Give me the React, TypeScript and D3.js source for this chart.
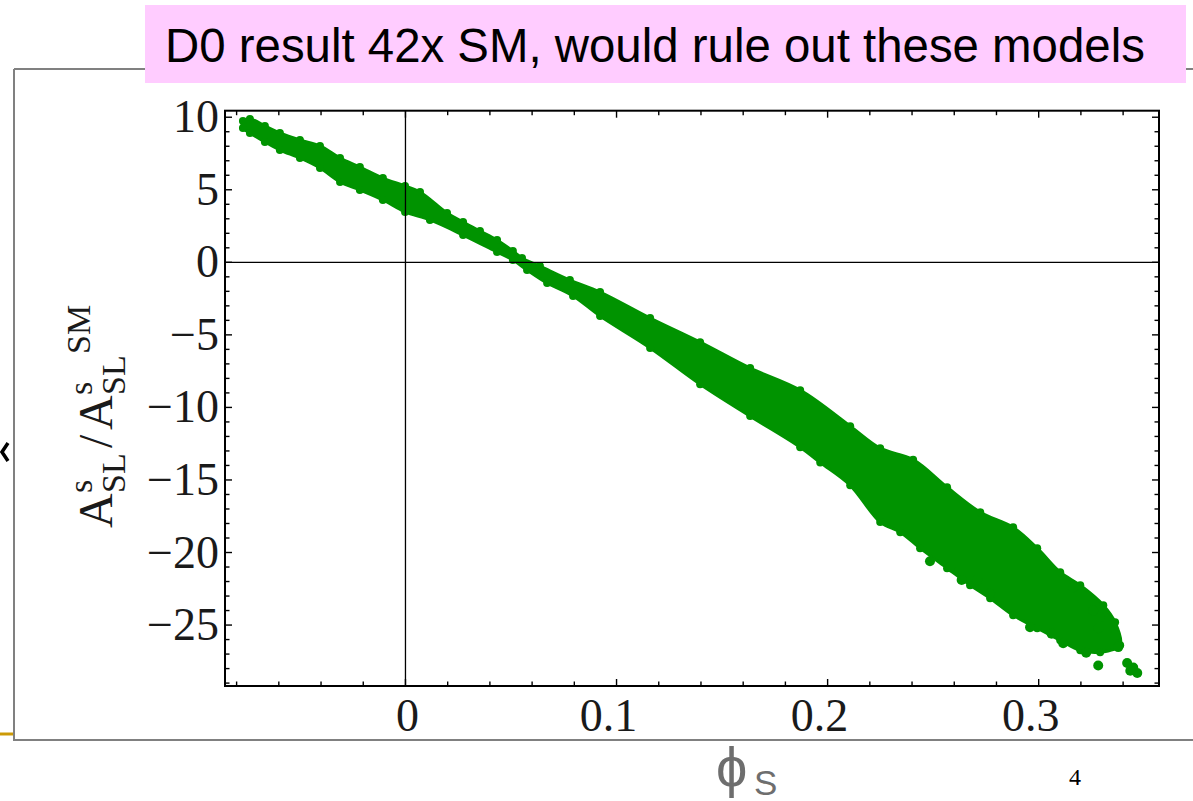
import React from "react";
import * as d3 from "d3";

// Upper boundary of the dense scan band: [phi_s, A_SL^s / A_SL^s,SM]
const bandUpper: [number, number][] = [
  [-0.077, 9.74], [-0.0737, 9.88], [-0.0666, 9.4], [-0.0595, 8.92], [-0.05, 8.43],
  [-0.0405, 8.02], [-0.031, 7.19], [-0.0216, 6.57], [-0.0107, 5.81], [-0.0002, 5.26],
  [0.0069, 4.85], [0.0197, 3.4], [0.0273, 2.78], [0.0353, 2.16], [0.0434, 1.54],
  [0.0509, 0.78], [0.0552, 0.3], [0.0637, -0.26], [0.0779, -1.22], [0.0922, -2.05],
  [0.1159, -3.84], [0.1396, -5.5], [0.1633, -7.29], [0.187, -8.81], [0.2107, -11.29],
  [0.2249, -12.81], [0.2405, -13.6], [0.2566, -15.5], [0.2723, -17.22], [0.2879, -18.26],
  [0.2993, -19.7], [0.3102, -21.36], [0.3197, -22.26], [0.3306, -23.63], [0.3362, -24.81],
];

// Lower boundary of the band, listed from the right end back to the left end
const bandLower: [number, number][] = [
  [0.3386, -26.39], [0.3291, -26.87], [0.3197, -26.74], [0.3102, -26.05], [0.2993, -25.22],
  [0.2879, -24.32], [0.277, -23.15], [0.2675, -22.25], [0.2566, -21.08], [0.2438, -19.7],
  [0.2344, -18.6], [0.2249, -17.9], [0.2107, -15.37], [0.1965, -13.8], [0.187, -12.74],
  [0.1633, -10.6], [0.1396, -8.4], [0.1159, -5.9], [0.0922, -3.7], [0.0794, -2.32],
  [0.0671, -1.43], [0.0576, -0.53], [0.0509, 0.16], [0.0434, 0.71], [0.0273, 1.88],
  [0.0116, 2.92], [-0.0002, 3.47], [-0.0107, 4.3], [-0.0216, 4.99], [-0.031, 5.54],
  [-0.0405, 6.5], [-0.05, 7.19], [-0.0595, 7.74], [-0.0666, 8.3], [-0.0737, 8.92],
  [-0.077, 9.26],
];

// Isolated model points in the sparse tail
const tailPoints: [number, number][] = [
  [0.3282, -27.79], [0.3448, -27.92], [0.3419, -27.61], [0.3467, -28.3], [0.3434, -28.15],
  [0.3362, -25.7], [0.3377, -26.52], [0.3291, -24.46], [0.3282, -25.22], [0.3258, -23.99],
  [0.3164, -22.4], [0.277, -22.81], [0.2709, -21.91], [0.2581, -21.01], [0.2959, -25.15],
  [0.3116, -26.25], [0.3225, -26.9], [0.3061, -25.6], [0.2635, -21.9], [0.2485, -20.6],
];

const xTickValues = [0, 0.1, 0.2, 0.3];
const xTickLabels = ["0", "0.1", "0.2", "0.3"];
const yTickValues = [10, 5, 0, -5, -10, -15, -20, -25];
const yTickLabels = ["10", "5", "0", "\u22125", "\u221210", "\u221215", "\u221220", "\u221225"];

const titleText = "D0 result 42x SM, would rule out these models";

const W = 1193;
const H = 801;
const frame = { left: 225, right: 1159, top: 110.7, bottom: 686 };
const GREEN = "#009300";
const SERIF = "'Liberation Serif', 'DejaVu Serif', serif";
const SANS = "'Liberation Sans', Arial, sans-serif";

export default function App() {
  const x = d3.scaleLinear().domain([-0.0855, 0.357]).range([frame.left, frame.right]);
  const y = d3.scaleLinear().domain([-29.2, 10.45]).range([frame.bottom, frame.top]);

  const bandPath = d3
    .line<[number, number]>()
    .x((d) => x(d[0]))
    .y((d) => y(d[1]))
    .curve(d3.curveCatmullRomClosed.alpha(0.5))([...bandUpper, ...bandLower]);

  const xMinor = d3.range(-0.08, 0.3501, 0.02).map((v) => +v.toFixed(2));
  const yMinor = d3.range(-29, 10.01, 1);
  const isMajorX = (v: number) => Math.abs(v * 10 - Math.round(v * 10)) < 1e-6;
  const isMajorY = (v: number) => Math.abs(v % 5) < 1e-6;

  const edgePoints = [...bandUpper, ...bandLower];

  return (
    <svg
      width={W}
      height={H}
      viewBox={`0 0 ${W} ${H}`}
      style={{ position: "absolute", left: 0, top: 0, background: "#fff" }}
    >
      <rect x={0} y={0} width={W} height={H} fill="#fff" />

      {/* slide frame */}
      <path d={`M14,69 H${W} M14,69 V740 H${W}`} fill="none" stroke="#808080" strokeWidth={2} />
      <line x1={0} x2={13} y1={734} y2={734} stroke="#CC9A06" strokeWidth={3} />
      <path d="M8,443 L2,452 L8,461" fill="none" stroke="#000" strokeWidth={3.5} />

      {/* title banner */}
      <rect x={145} y={5} width={1041} height={78} fill="#FFCCFF" />
      <text x={165} y={62} fontFamily={SANS} fontSize={47.4} fill="#000">
        {titleText}
      </text>

      {/* data band and scattered points */}
      <g>
        <path d={bandPath ?? ""} fill={GREEN} stroke={GREEN} strokeWidth={3} strokeLinejoin="round" />
        {edgePoints.map((d, i) => (
          <circle key={`e${i}`} cx={x(d[0])} cy={y(d[1])} r={4} fill={GREEN} />
        ))}
        {tailPoints.map((d, i) => (
          <circle key={`t${i}`} cx={x(d[0])} cy={y(d[1])} r={5} fill={GREEN} />
        ))}
      </g>

      {/* zero axes */}
      <line x1={x(0)} x2={x(0)} y1={frame.top} y2={frame.bottom} stroke="#000" strokeWidth={1.3} />
      <line x1={frame.left} x2={frame.right} y1={y(0)} y2={y(0)} stroke="#000" strokeWidth={1.3} />

      {/* frame ticks */}
      <g stroke="#000" strokeWidth={1.4}>
        {xMinor.map((v) => {
          const len = isMajorX(v) ? 7 : 4.5;
          return (
            <g key={`xt${v}`}>
              <line x1={x(v)} x2={x(v)} y1={frame.bottom} y2={frame.bottom - len} />
              <line x1={x(v)} x2={x(v)} y1={frame.top} y2={frame.top + len} />
            </g>
          );
        })}
        {yMinor.map((v) => {
          const len = isMajorY(v) ? 7 : 4.5;
          return (
            <g key={`yt${v}`}>
              <line x1={frame.left} x2={frame.left + len} y1={y(v)} y2={y(v)} />
              <line x1={frame.right} x2={frame.right - len} y1={y(v)} y2={y(v)} />
            </g>
          );
        })}
      </g>
      <rect
        x={frame.left}
        y={frame.top}
        width={frame.right - frame.left}
        height={frame.bottom - frame.top}
        fill="none"
        stroke="#000"
        strokeWidth={2}
      />

      {/* tick labels */}
      <g fontFamily={SERIF} fontSize={46} fill="#1a1a1a">
        {xTickValues.map((v, i) => (
          <text key={`xl${v}`} x={x(v)} dx={v === 0 ? 2 : -8} y={731} textAnchor="middle">
            {xTickLabels[i]}
          </text>
        ))}
        {yTickValues.map((v, i) => (
          <text key={`yl${v}`} x={219} y={y(v)} dy={15} textAnchor="end">
            {yTickLabels[i]}
          </text>
        ))}
      </g>

      {/* y axis title: A^s_SL / A^s_SL^SM */}
      <g transform="translate(112,410) rotate(-90)" fontFamily={SERIF} fill="#1a1a1a">
        <text x={-118} y={0} fontSize={48}>A</text>
        <text x={-83} y={-20} fontSize={34}>s</text>
        <text x={-83} y={13} fontSize={34}>SL</text>
        <text x={-38} y={0} fontSize={48}>/</text>
        <text x={-20} y={0} fontSize={48}>A</text>
        <text x={15} y={-20} fontSize={34}>s</text>
        <text x={15} y={13} fontSize={34}>SL</text>
        <text x={56} y={-22} fontSize={34}>SM</text>
      </g>

      {/* x axis title */}
      <text x={716} y={786} fontFamily={SANS} fontSize={56} fill="#6e6e6e">
        ϕ
      </text>
      <text x={754} y={795} fontFamily={SANS} fontSize={35} fill="#6e6e6e">
        S
      </text>

      {/* page number */}
      <text x={1075} y={785} fontFamily={SERIF} fontSize={24} textAnchor="middle" fill="#000">
        4
      </text>
    </svg>
  );
}
